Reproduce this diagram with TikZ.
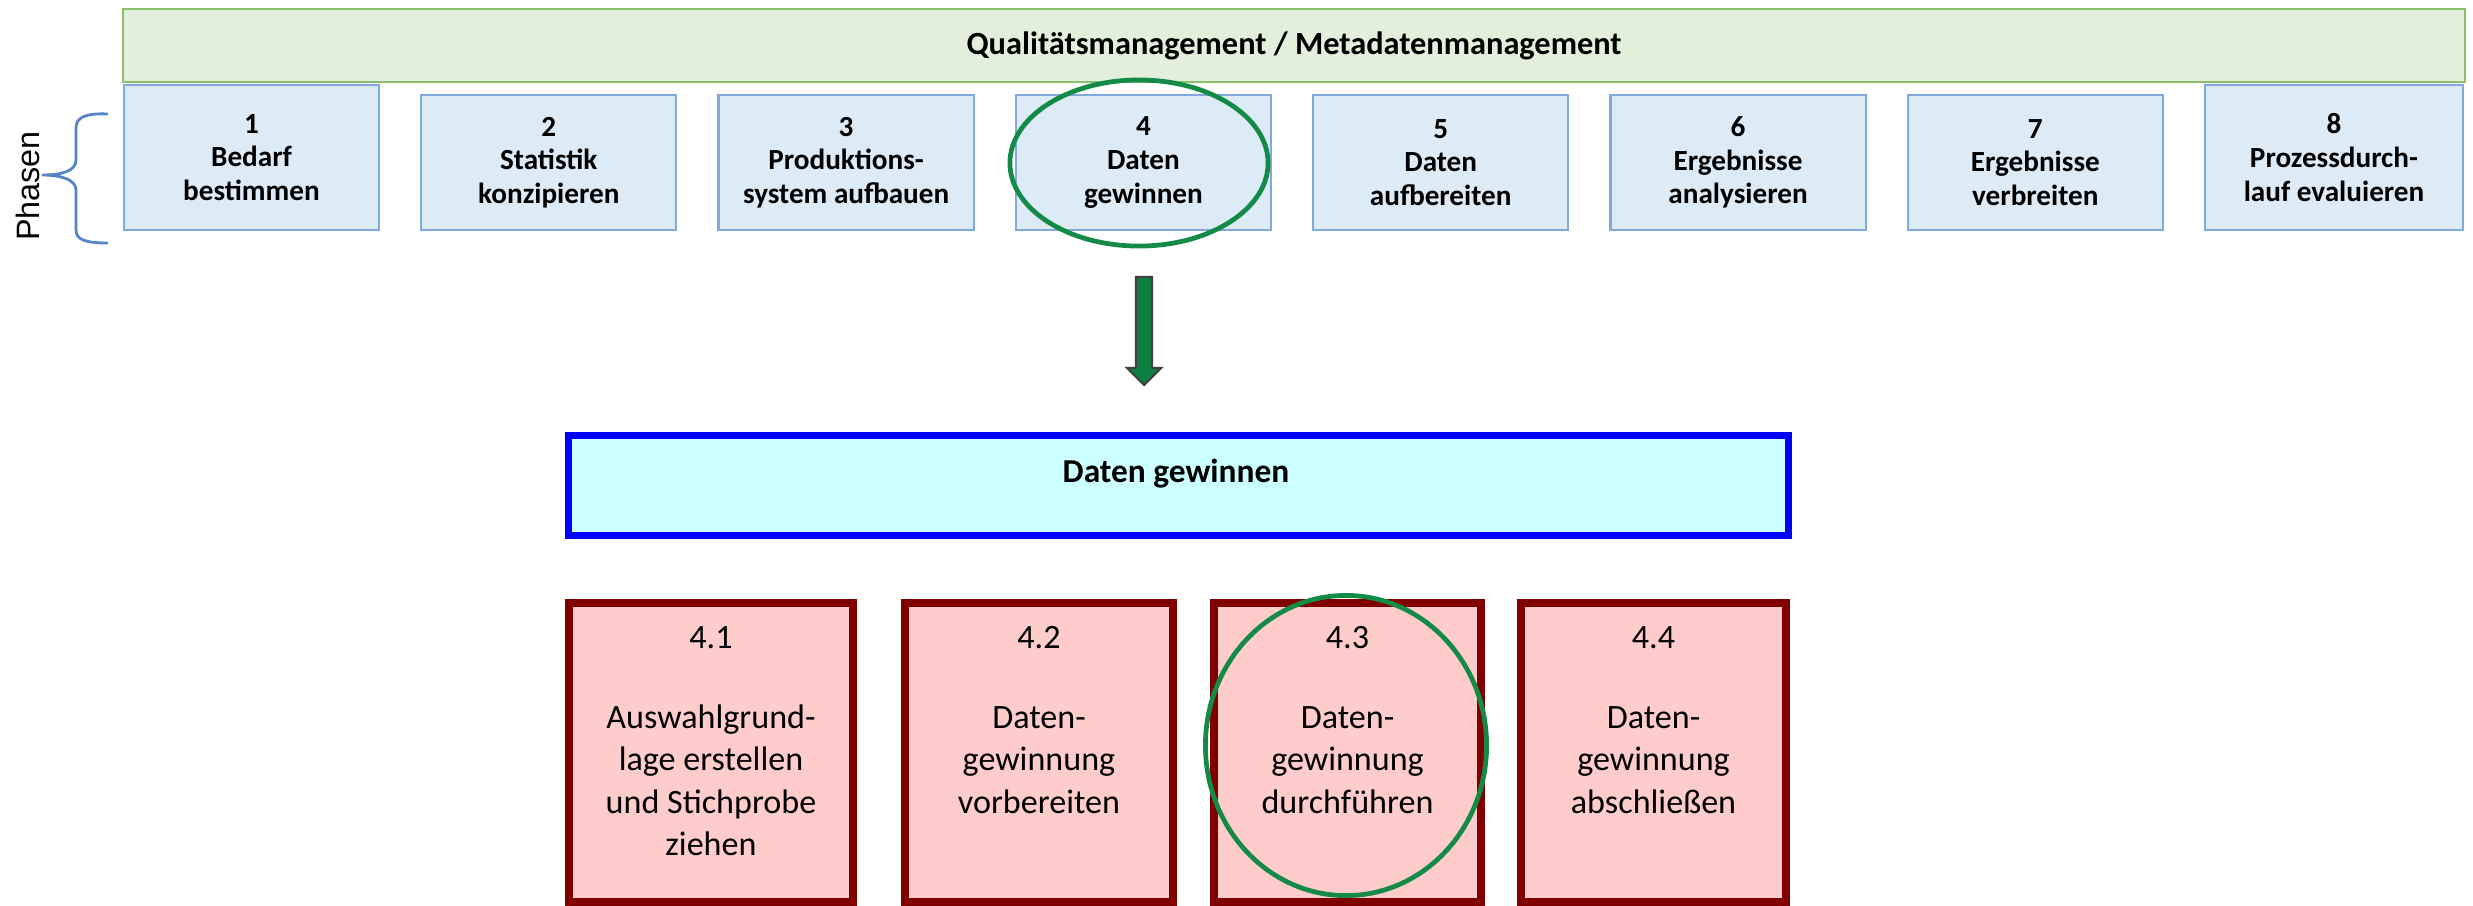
\documentclass[tikz,border=0pt]{standalone}
\usepackage{fontspec}
\setmainfont{Carlito}
\newfontfamily\arialfont{Liberation Sans}
\usetikzlibrary{shapes.geometric,positioning}
\definecolor{barfill}{HTML}{E2EFDA}
\definecolor{barline}{HTML}{8CC06C}
\definecolor{phfill}{HTML}{DDEBF7}
\definecolor{phline}{HTML}{80AADC}
\definecolor{ringgreen}{HTML}{138A45}
\definecolor{arrgreen}{HTML}{0B7F3F}
\definecolor{subfill}{HTML}{FFCCCC}
\definecolor{subline}{HTML}{800000}
\definecolor{dgfill}{HTML}{CCFFFF}
\definecolor{bracecol}{HTML}{5585C5}
\begin{document}
\begin{tikzpicture}[x=0.01cm,y=-0.01cm,
	qmbar/.style={draw=barline,fill=barfill,line width=0.6pt,inner sep=0pt,minimum width=23.40cm,minimum height=0.73cm,font=\fontsize{9.2}{11}\selectfont\bfseries},
	phase/.style={draw=phline,fill=phfill,line width=0.6pt,inner sep=0pt,minimum width=2.55cm,minimum height=1.35cm,align=center,font=\fontsize{8.3}{9.6}\selectfont\bfseries},
	ring/.style={ellipse,draw=ringgreen,line width=1.35pt,inner sep=0pt},
	dgbox/.style={draw=blue,fill=dgfill,line width=2pt,inner sep=0pt,minimum width=12.20cm,minimum height=1.00cm},
	substep/.style={draw=subline,fill=subfill,line width=2.3pt,inner sep=0pt,minimum height=2.99cm},
	subtext/.style={align=center,anchor=north,inner sep=0pt,font=\fontsize{9.7}{12.1}\selectfont}]
	\useasboundingbox (0,0) rectangle (2473,905);
	\node[qmbar] (qm) at (1294,45.5) {Qualitätsmanagement / Metadatenmanagement};
	\node[phase,minimum height=1.45cm] (p1) at (251.5,157.5) {1\\Bedarf\\bestimmen};
	\node[phase] (p2) at (548.8,162.5) {2\\Statistik\\konzipieren};
	\node[phase] (p3) at (846.1,162.5) {3\\Produktions-\\system aufbauen};
	\node[phase] (p4) at (1143.4,162.5) {4\\Daten\\gewinnen};
	\node[phase] (p5) at (1440.7,162.5) {5\\Daten\\aufbereiten};
	\node[phase] (p6) at (1738,162.5) {6\\Ergebnisse\\analysieren};
	\node[phase] (p7) at (2035.3,162.5) {7\\Ergebnisse\\verbreiten};
	\node[phase,minimum width=2.58cm,minimum height=1.45cm] (p8) at (2334,157.5) {8\\Prozessdurch-\\lauf evaluieren};
	\node[ring,minimum width=2.58cm,minimum height=1.66cm] (r4) at (1139,163) {};
	\node[rotate=90,inner sep=0pt,font=\arialfont\fontsize{9.2}{11}\selectfont] (ph) at (28,186) {Phasen};
	\draw[bracecol,line width=0.8pt] (108,114) .. controls (86,113) and (76,117) .. (76,128) -- (76,160) .. controls (76,171) and (62,175) .. (42,175) .. controls (62,175) and (76,180) .. (76,190) -- (76,230) .. controls (76,240) and (86,243) .. (108,243);
	\coordinate (atop) at (1144,277);
	\coordinate (atip) at (1144,385);
	\draw[fill=arrgreen,draw=black!75,line width=0.6pt] (atop) ++(-8,0) -- ++(16,0) -- ++(0,91) -- ++(9,0) -- (atip) -- ++(-17,-17) -- ++(9,0) -- cycle;
	\node[dgbox] (dg) at (1178.5,485.5) {};
	\node[inner sep=0pt,font=\fontsize{9.5}{11}\selectfont\bfseries] (dgt) at (1176,474) {Daten gewinnen};
	\node[substep,minimum width=2.84cm] (s41) at (711,752.5) {};
	\node[substep,minimum width=2.68cm] (s42) at (1039,752.5) {};
	\node[substep,minimum width=2.67cm] (s43) at (1347.5,752.5) {};
	\node[substep,minimum width=2.65cm] (s44) at (1653.5,752.5) {};
	\node[subtext] (t41) at (711,626) {4.1\\[10.5pt]Auswahlgrund-\\lage erstellen\\und Stichprobe\\ziehen};
	\node[subtext] (t42) at (1039,626) {4.2\\[10.5pt]Daten-\\gewinnung\\vorbereiten};
	\node[subtext] (t43) at (1347.5,626) {4.3\\[10.5pt]Daten-\\gewinnung\\durchführen};
	\node[subtext] (t44) at (1653.5,626) {4.4\\[10.5pt]Daten-\\gewinnung\\abschließen};
	\node[ring,minimum width=2.81cm,minimum height=3.00cm] (r43) at (1346,745.5) {};
\end{tikzpicture}
\end{document}
